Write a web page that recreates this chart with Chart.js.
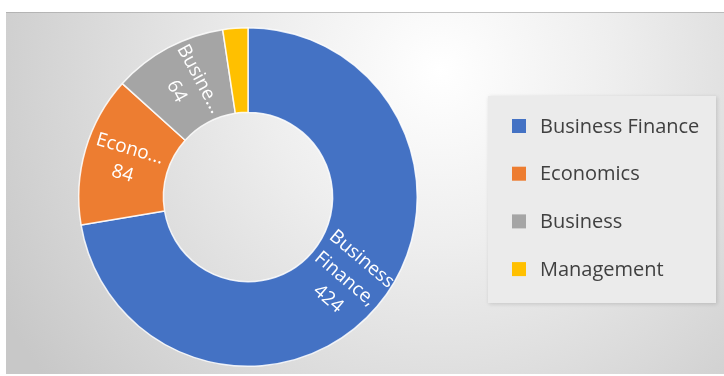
<!DOCTYPE html>
<html>
<head>
<meta charset="utf-8">
<script src="https://cdn.jsdelivr.net/npm/chart.js@4/dist/chart.umd.min.js"></script>
<style>
  html, body { margin: 0; padding: 0; background: #ffffff; }
  #c { display: block; }
</style>
</head>
<body>
<canvas id="c" width="724" height="376"></canvas>
<script>
// Enrolment by subject area
const categories = ['Business Finance', 'Economics', 'Business', 'Management'];
const counts = [424, 84, 64, 14];
const sliceColors = ['#4472C4', '#ED7D31', '#A5A5A5', '#FFC000'];
// Name part of each in-slice label (value is appended from counts); null = no label
const sliceNames = [['Business', 'Finance,'], ['Econo...'], ['Busine...'], null];

const FONT = '"Open Sans", "Liberation Sans", sans-serif';

// Soft radial backdrop behind the whole chart
const backdrop = {
  id: 'backdrop',
  beforeDraw(chart) {
    const ctx = chart.ctx;
    ctx.save();
    ctx.fillStyle = '#ffffff';
    ctx.fillRect(0, 0, chart.width, chart.height);
    const x0 = 6, y0 = 12, x1 = chart.width, y1 = chart.height - 2;
    const g = ctx.createRadialGradient(440, 70, 0, 440, 70, 500);
    g.addColorStop(0, '#ffffff');
    g.addColorStop(0.35, '#eeeeee');
    g.addColorStop(1, '#c8c8c8');
    ctx.fillStyle = g;
    ctx.fillRect(x0, y0, x1 - x0, y1 - y0);
    ctx.fillStyle = 'rgba(160,160,160,0.6)';
    ctx.fillRect(x0, y0, x1 - x0, 1);
    ctx.restore();
  }
};

// Rotated labels inside each slice, reading along the radius
const sliceLabels = {
  id: 'sliceLabels',
  afterDatasetsDraw(chart) {
    const ctx = chart.ctx;
    const arcs = chart.getDatasetMeta(0).data;
    ctx.save();
    ctx.fillStyle = '#ffffff';
    ctx.font = '19px ' + FONT;
    ctx.textAlign = 'center';
    ctx.textBaseline = 'middle';
    arcs.forEach((arc, i) => {
      if (!sliceNames[i]) return;
      const p = arc.getProps(['x', 'y', 'startAngle', 'endAngle', 'innerRadius', 'outerRadius'], true);
      const mid = (p.startAngle + p.endAngle) / 2;
      const r = (p.innerRadius + p.outerRadius) / 2;
      const cx = p.x + Math.cos(mid) * r;
      const cy = p.y + Math.sin(mid) * r;
      let rot = mid;
      if (Math.cos(rot) < 0) rot += Math.PI;
      const lines = sliceNames[i].concat([String(counts[i])]);
      const lh = 26;
      ctx.save();
      ctx.translate(cx, cy);
      ctx.rotate(rot);
      lines.forEach((t, k) => {
        ctx.fillText(t, 0, (k - (lines.length - 1) / 2) * lh);
      });
      ctx.restore();
    });
    ctx.restore();
  }
};

// Boxed legend to the right of the ring
const sideLegend = {
  id: 'sideLegend',
  afterDraw(chart) {
    const ctx = chart.ctx;
    ctx.save();
    const bx = 488, by = 96, bw = 228, bh = 207;
    ctx.shadowColor = 'rgba(0,0,0,0.15)';
    ctx.shadowBlur = 4;
    ctx.shadowOffsetX = 1;
    ctx.shadowOffsetY = 1;
    ctx.fillStyle = '#ebebeb';
    ctx.fillRect(bx, by, bw, bh);
    ctx.shadowColor = 'transparent';
    ctx.font = '20px ' + FONT;
    ctx.textBaseline = 'middle';
    ctx.textAlign = 'left';
    const labels = chart.data.labels;
    const colors = chart.data.datasets[0].backgroundColor;
    labels.forEach((lab, i) => {
      const yc = 126 + i * 47.7;
      ctx.fillStyle = colors[i];
      ctx.fillRect(512, yc - 7, 14, 14);
      ctx.fillStyle = '#404040';
      ctx.fillText(lab, 540, yc + 1);
    });
    ctx.restore();
  }
};

new Chart(document.getElementById('c'), {
  type: 'doughnut',
  data: {
    labels: categories,
    datasets: [{
      data: counts,
      backgroundColor: sliceColors,
      borderColor: 'rgba(255,255,255,0.85)',
      borderWidth: 1.5
    }]
  },
  options: {
    responsive: false,
    devicePixelRatio: 1,
    animation: false,
    cutout: '50%',
    layout: { padding: { left: 78, right: 306, top: 27, bottom: 9 } },
    plugins: {
      legend: { display: false },
      tooltip: { enabled: false }
    }
  },
  plugins: [backdrop, sliceLabels, sideLegend]
});
</script>
</body>
</html>
